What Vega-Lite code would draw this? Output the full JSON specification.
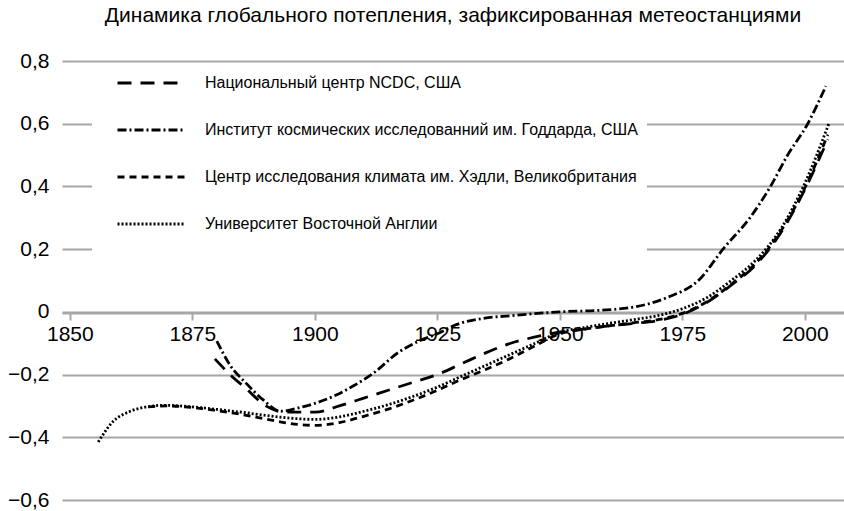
{
  "$schema": "https://vega.github.io/schema/vega-lite/v6.json",
  "width": 782,
  "height": 439,
  "autosize": "none",
  "padding": {"left": 62, "top": 61, "right": 0, "bottom": 11},
  "background": "white",
  "config": {
    "font": "Liberation Sans",
    "view": {"stroke": null}
  },
  "title": {
    "text": "Динамика глобального потепления, зафиксированная метеостанциями",
    "fontSize": 21,
    "fontWeight": "normal",
    "color": "#000000",
    "anchor": "middle",
    "frame": "group",
    "offset": 24
  },
  "datasets": {
    "curves": [
      {"series": "Национальный центр NCDC, США", "year": 1879.6, "value": -0.15},
      {"series": "Национальный центр NCDC, США", "year": 1882.7, "value": -0.2},
      {"series": "Национальный центр NCDC, США", "year": 1886, "value": -0.245},
      {"series": "Национальный центр NCDC, США", "year": 1890, "value": -0.3},
      {"series": "Национальный центр NCDC, США", "year": 1894, "value": -0.32},
      {"series": "Национальный центр NCDC, США", "year": 1900, "value": -0.32},
      {"series": "Национальный центр NCDC, США", "year": 1905, "value": -0.3},
      {"series": "Национальный центр NCDC, США", "year": 1910, "value": -0.275},
      {"series": "Национальный центр NCDC, США", "year": 1915, "value": -0.25},
      {"series": "Национальный центр NCDC, США", "year": 1920, "value": -0.225},
      {"series": "Национальный центр NCDC, США", "year": 1925, "value": -0.2},
      {"series": "Национальный центр NCDC, США", "year": 1930, "value": -0.165},
      {"series": "Национальный центр NCDC, США", "year": 1935, "value": -0.13},
      {"series": "Национальный центр NCDC, США", "year": 1940, "value": -0.1},
      {"series": "Национальный центр NCDC, США", "year": 1945, "value": -0.08},
      {"series": "Национальный центр NCDC, США", "year": 1950, "value": -0.065},
      {"series": "Национальный центр NCDC, США", "year": 1955, "value": -0.055},
      {"series": "Национальный центр NCDC, США", "year": 1960, "value": -0.045},
      {"series": "Национальный центр NCDC, США", "year": 1965, "value": -0.037},
      {"series": "Национальный центр NCDC, США", "year": 1970, "value": -0.028},
      {"series": "Национальный центр NCDC, США", "year": 1975, "value": -0.008},
      {"series": "Национальный центр NCDC, США", "year": 1980, "value": 0.03},
      {"series": "Национальный центр NCDC, США", "year": 1985, "value": 0.085},
      {"series": "Национальный центр NCDC, США", "year": 1990, "value": 0.15},
      {"series": "Национальный центр NCDC, США", "year": 1995, "value": 0.25},
      {"series": "Национальный центр NCDC, США", "year": 2000, "value": 0.39},
      {"series": "Национальный центр NCDC, США", "year": 2004.7, "value": 0.55},

      {"series": "Институт космических исследованний им. Годдарда, США", "year": 1880, "value": -0.093},
      {"series": "Институт космических исследованний им. Годдарда, США", "year": 1882.7, "value": -0.17},
      {"series": "Институт космических исследованний им. Годдарда, США", "year": 1886, "value": -0.228},
      {"series": "Институт космических исследованний им. Годдарда, США", "year": 1889.4, "value": -0.28},
      {"series": "Институт космических исследованний им. Годдарда, США", "year": 1893, "value": -0.317},
      {"series": "Институт космических исследованний им. Годдарда, США", "year": 1897, "value": -0.305},
      {"series": "Институт космических исследованний им. Годдарда, США", "year": 1903.7, "value": -0.27},
      {"series": "Институт космических исследованний им. Годдарда, США", "year": 1908, "value": -0.235},
      {"series": "Институт космических исследованний им. Годдарда, США", "year": 1912, "value": -0.195},
      {"series": "Институт космических исследованний им. Годдарда, США", "year": 1917, "value": -0.13},
      {"series": "Институт космических исследованний им. Годдарда, США", "year": 1921, "value": -0.095},
      {"series": "Институт космических исследованний им. Годдарда, США", "year": 1925, "value": -0.07},
      {"series": "Институт космических исследованний им. Годдарда, США", "year": 1929, "value": -0.04},
      {"series": "Институт космических исследованний им. Годдарда, США", "year": 1934, "value": -0.022},
      {"series": "Институт космических исследованний им. Годдарда, США", "year": 1941, "value": -0.011},
      {"series": "Институт космических исследованний им. Годдарда, США", "year": 1950, "value": 0.0},
      {"series": "Институт космических исследованний им. Годдарда, США", "year": 1958, "value": 0.005},
      {"series": "Институт космических исследованний им. Годдарда, США", "year": 1965, "value": 0.015},
      {"series": "Институт космических исследованний им. Годдарда, США", "year": 1971.8, "value": 0.045},
      {"series": "Институт космических исследованний им. Годдарда, США", "year": 1978.6, "value": 0.105},
      {"series": "Институт космических исследованний им. Годдарда, США", "year": 1983.3, "value": 0.2},
      {"series": "Институт космических исследованний им. Годдарда, США", "year": 1988.8, "value": 0.3},
      {"series": "Институт космических исследованний им. Годдарда, США", "year": 1993, "value": 0.4},
      {"series": "Институт космических исследованний им. Годдарда, США", "year": 1996.5, "value": 0.5},
      {"series": "Институт космических исследованний им. Годдарда, США", "year": 2000.6, "value": 0.6},
      {"series": "Институт космических исследованний им. Годдарда, США", "year": 2004.3, "value": 0.72},

      {"series": "Центр исследования климата им. Хэдли, Великобритания", "year": 1866, "value": -0.303},
      {"series": "Центр исследования климата им. Хэдли, Великобритания", "year": 1870, "value": -0.3},
      {"series": "Центр исследования климата им. Хэдли, Великобритания", "year": 1875, "value": -0.305},
      {"series": "Центр исследования климата им. Хэдли, Великобритания", "year": 1880, "value": -0.315},
      {"series": "Центр исследования климата им. Хэдли, Великобритания", "year": 1885, "value": -0.327},
      {"series": "Центр исследования климата им. Хэдли, Великобритания", "year": 1890, "value": -0.342},
      {"series": "Центр исследования климата им. Хэдли, Великобритания", "year": 1895, "value": -0.356},
      {"series": "Центр исследования климата им. Хэдли, Великобритания", "year": 1900, "value": -0.362},
      {"series": "Центр исследования климата им. Хэдли, Великобритания", "year": 1905, "value": -0.353},
      {"series": "Центр исследования климата им. Хэдли, Великобритания", "year": 1910, "value": -0.333},
      {"series": "Центр исследования климата им. Хэдли, Великобритания", "year": 1915, "value": -0.31},
      {"series": "Центр исследования климата им. Хэдли, Великобритания", "year": 1920, "value": -0.282},
      {"series": "Центр исследования климата им. Хэдли, Великобритания", "year": 1925, "value": -0.25},
      {"series": "Центр исследования климата им. Хэдли, Великобритания", "year": 1930, "value": -0.215},
      {"series": "Центр исследования климата им. Хэдли, Великобритания", "year": 1935, "value": -0.183},
      {"series": "Центр исследования климата им. Хэдли, Великобритания", "year": 1940, "value": -0.148},
      {"series": "Центр исследования климата им. Хэдли, Великобритания", "year": 1945, "value": -0.108},
      {"series": "Центр исследования климата им. Хэдли, Великобритания", "year": 1950, "value": -0.07},
      {"series": "Центр исследования климата им. Хэдли, Великобритания", "year": 1955, "value": -0.055},
      {"series": "Центр исследования климата им. Хэдли, Великобритания", "year": 1960, "value": -0.045},
      {"series": "Центр исследования климата им. Хэдли, Великобритания", "year": 1965, "value": -0.035},
      {"series": "Центр исследования климата им. Хэдли, Великобритания", "year": 1970, "value": -0.025},
      {"series": "Центр исследования климата им. Хэдли, Великобритания", "year": 1975, "value": -0.005},
      {"series": "Центр исследования климата им. Хэдли, Великобритания", "year": 1980, "value": 0.032},
      {"series": "Центр исследования климата им. Хэдли, Великобритания", "year": 1985, "value": 0.088},
      {"series": "Центр исследования климата им. Хэдли, Великобритания", "year": 1990, "value": 0.155},
      {"series": "Центр исследования климата им. Хэдли, Великобритания", "year": 1995, "value": 0.255},
      {"series": "Центр исследования климата им. Хэдли, Великобритания", "year": 2000, "value": 0.395},
      {"series": "Центр исследования климата им. Хэдли, Великобритания", "year": 2004.7, "value": 0.565},

      {"series": "Университет Восточной Англии", "year": 1855.8, "value": -0.415},
      {"series": "Университет Восточной Англии", "year": 1858.8, "value": -0.35},
      {"series": "Университет Восточной Англии", "year": 1862.2, "value": -0.318},
      {"series": "Университет Восточной Англии", "year": 1865.7, "value": -0.303},
      {"series": "Университет Восточной Англии", "year": 1869, "value": -0.298},
      {"series": "Университет Восточной Англии", "year": 1875, "value": -0.303},
      {"series": "Университет Восточной Англии", "year": 1880, "value": -0.311},
      {"series": "Университет Восточной Англии", "year": 1885, "value": -0.32},
      {"series": "Университет Восточной Англии", "year": 1890, "value": -0.33},
      {"series": "Университет Восточной Англии", "year": 1895, "value": -0.339},
      {"series": "Университет Восточной Англии", "year": 1900, "value": -0.343},
      {"series": "Университет Восточной Англии", "year": 1905, "value": -0.335},
      {"series": "Университет Восточной Англии", "year": 1910, "value": -0.317},
      {"series": "Университет Восточной Англии", "year": 1915, "value": -0.296},
      {"series": "Университет Восточной Англии", "year": 1920, "value": -0.27},
      {"series": "Университет Восточной Англии", "year": 1925, "value": -0.24},
      {"series": "Университет Восточной Англии", "year": 1930, "value": -0.205},
      {"series": "Университет Восточной Англии", "year": 1935, "value": -0.17},
      {"series": "Университет Восточной Англии", "year": 1940, "value": -0.135},
      {"series": "Университет Восточной Англии", "year": 1945, "value": -0.1},
      {"series": "Университет Восточной Англии", "year": 1950, "value": -0.065},
      {"series": "Университет Восточной Англии", "year": 1955, "value": -0.05},
      {"series": "Университет Восточной Англии", "year": 1960, "value": -0.037},
      {"series": "Университет Восточной Англии", "year": 1965, "value": -0.025},
      {"series": "Университет Восточной Англии", "year": 1970, "value": -0.012},
      {"series": "Университет Восточной Англии", "year": 1975, "value": 0.01},
      {"series": "Университет Восточной Англии", "year": 1980, "value": 0.045},
      {"series": "Университет Восточной Англии", "year": 1985, "value": 0.1},
      {"series": "Университет Восточной Англии", "year": 1990, "value": 0.165},
      {"series": "Университет Восточной Англии", "year": 1995, "value": 0.262},
      {"series": "Университет Восточной Англии", "year": 2000, "value": 0.41},
      {"series": "Университет Восточной Англии", "year": 2004.9, "value": 0.6}
    ]
  },
  "data": {"name": "curves"},
  "mark": {"type": "line", "interpolate": "monotone", "color": "#000000", "strokeWidth": 2.8},
  "encoding": {
    "x": {
      "field": "year",
      "type": "quantitative",
      "scale": {"domain": [1848.4, 2008], "nice": false, "zero": false},
      "axis": {
        "title": null,
        "values": [1850, 1875, 1900, 1925, 1950, 1975, 2000],
        "format": "d",
        "grid": false,
        "offset": -187,
        "domainColor": "#a6a6a6",
        "domainWidth": 2,
        "tickColor": "#a6a6a6",
        "tickWidth": 2,
        "tickSize": 7,
        "labelFontSize": 21,
        "labelColor": "#000000",
        "labelPadding": 3,
        "labelFlush": false
      }
    },
    "y": {
      "field": "value",
      "type": "quantitative",
      "scale": {"domain": [-0.6, 0.8], "nice": false},
      "axis": {
        "title": null,
        "values": [-0.6, -0.4, -0.2, 0, 0.2, 0.4, 0.6, 0.8],
        "labelExpr": "datum.value === 0 ? '0' : replace(format(datum.value, '.1f'), '.', ',')",
        "grid": true,
        "gridColor": "#a6a6a6",
        "gridWidth": 2,
        "domain": false,
        "ticks": false,
        "labelFontSize": 21,
        "labelColor": "#000000",
        "labelPadding": 13
      }
    },
    "strokeDash": {
      "field": "series",
      "type": "nominal",
      "scale": {
        "domain": [
          "Национальный центр NCDC, США",
          "Институт космических исследованний им. Годдарда, США",
          "Центр исследования климата им. Хэдли, Великобритания",
          "Университет Восточной Англии"
        ],
        "range": [[14, 9], [9, 3, 2, 3], [7, 5], [2, 2]]
      },
      "legend": {
        "title": " ",
        "titleOrient": "bottom",
        "titleFontSize": 10,
        "titlePadding": 0,
        "orient": "none",
        "legendX": 30,
        "legendY": 3,
        "padding": 9,
        "fillColor": "white",
        "symbolType": "stroke",
        "symbolSize": 4489,
        "symbolOffset": 15,
        "clipHeight": 20,
        "symbolStrokeWidth": 2.8,
        "symbolStrokeColor": "#000000",
        "labelFontSize": 16,
        "labelColor": "#000000",
        "labelOffset": 19,
        "labelLimit": 800,
        "rowPadding": 27
      }
    }
  }
}
